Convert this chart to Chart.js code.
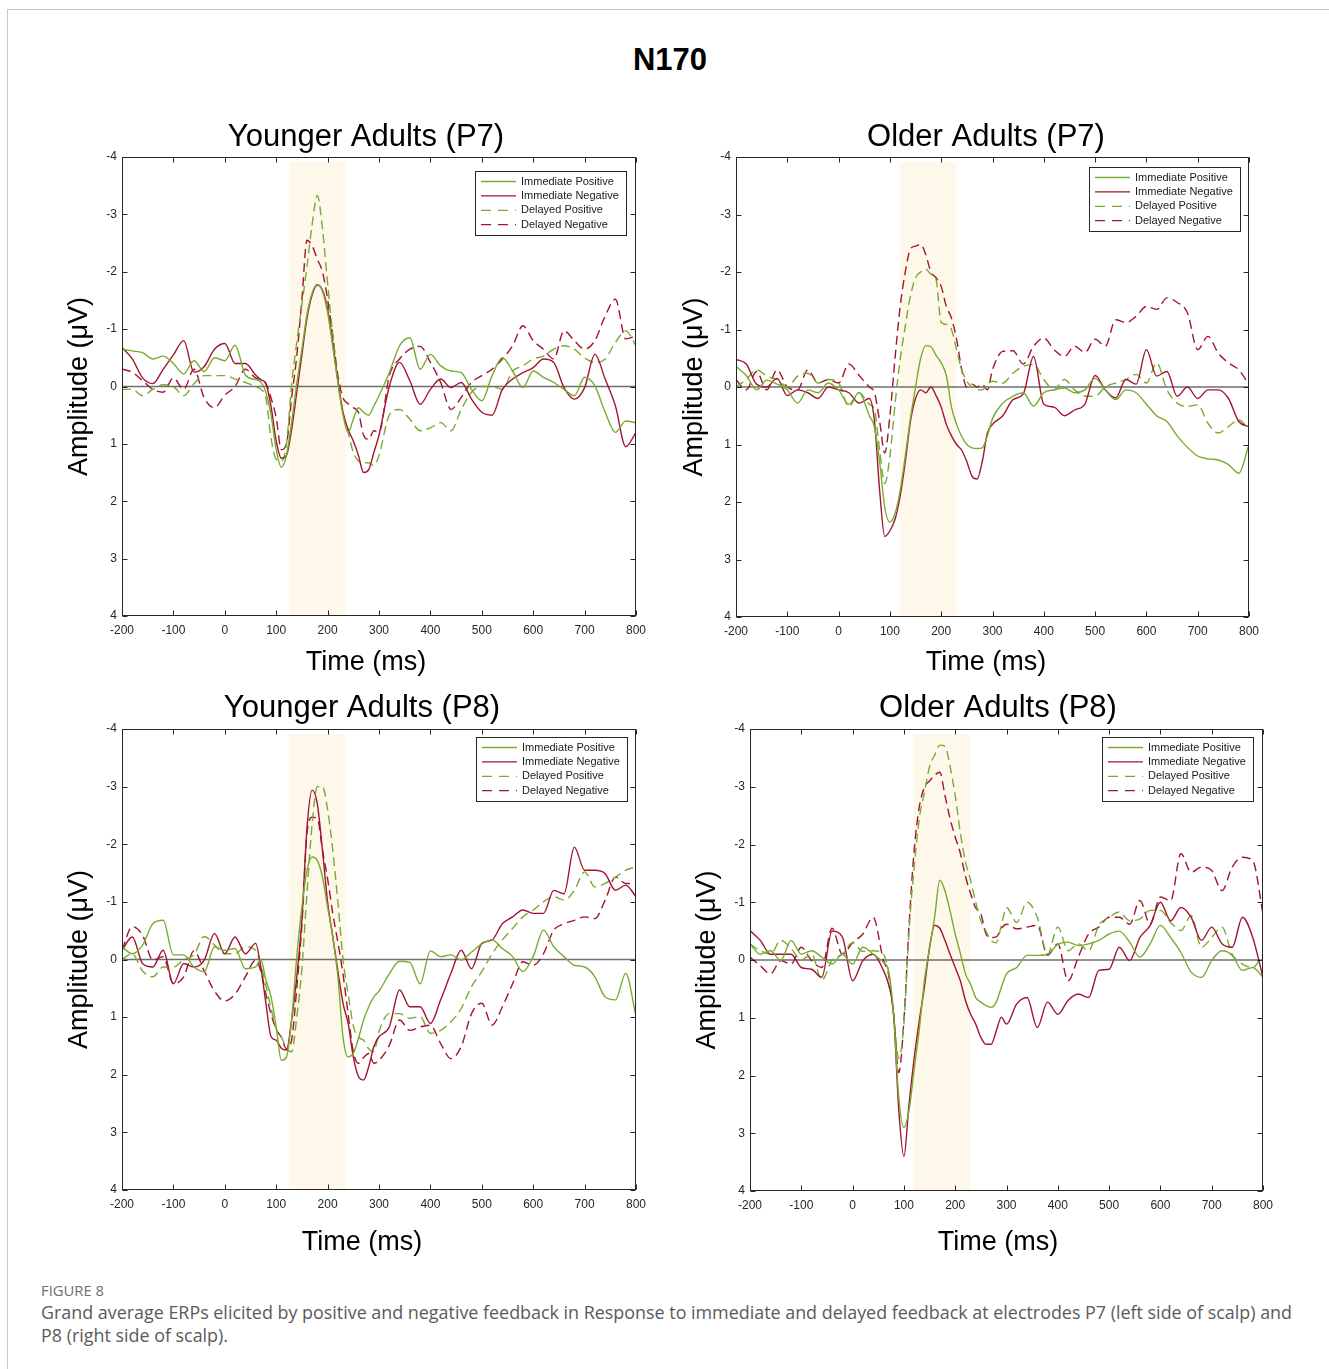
<!DOCTYPE html>
<html>
<head>
<meta charset="utf-8">
<script src="https://cdn.jsdelivr.net/npm/chart.js@4.4.1/dist/chart.umd.min.js"></script>
<style>
  body { margin: 0; background: #fff; width: 1329px; height: 1369px; overflow: hidden; position: relative;
         font-family: 'Liberation Sans', Arial, Helvetica, sans-serif; }
  .frame { position: absolute; left: 7px; top: 9px; width: 1400px; height: 1400px;
           border-top: 1px solid #c8c8c8; border-left: 1px solid #c8c8c8; }
  .main-title { position: absolute; left: 0; width: 1340px; top: 42px; line-height: 36px; text-align: center;
                font-size: 31px; font-weight: bold; color: #000; }
  canvas { position: absolute; }
  .fig-label { position: absolute; left: 41px; top: 1281px; font-family: 'Open Sans', sans-serif; font-size: 14.8px;
               color: #707070; line-height: 18px; }
  .caption { position: absolute; left: 41px; top: 1301px; font-family: 'Open Sans', sans-serif; font-size: 17.9px;
             color: #5a5a5a; line-height: 23px; white-space: nowrap; }
</style>
</head>
<body>
<div class="frame"></div>
<div class="main-title">N170</div>
<canvas id="ya7"></canvas>
<canvas id="oa7"></canvas>
<canvas id="ya8"></canvas>
<canvas id="oa8"></canvas>
<div class="fig-label">FIGURE 8</div>
<div class="caption">Grand average ERPs elicited by positive and negative feedback in Response to immediate and delayed feedback at electrodes P7 (left side of scalp) and<br>P8 (right side of scalp).</div>

<script>
// time points in ms (finer step around the N170 window)
const times = [-200,-180,-160,-140,-120,-100,-80,-60,-40,-20,0,20,40,60,
  70,80,90,100,110,120,130,140,150,160,170,180,190,200,210,220,230,240,250,260,270,280,290,300,
  320,340,360,380,400,420,440,460,480,500,520,540,560,580,600,620,640,660,680,700,720,740,760,780,800];

const seriesLabels = ['Immediate Positive', 'Immediate Negative', 'Delayed Positive', 'Delayed Negative'];
const panelTitles = ['Younger Adults (P7)', 'Older Adults (P7)', 'Younger Adults (P8)', 'Older Adults (P8)'];

// shaded N170 windows (ms)
const bandYoung = [125, 235];
const bandOld = [119, 230];

// amplitudes in microvolts
const ya7ImmPos = [-0.65,-0.62,-0.59,-0.48,-0.53,-0.4,-0.22,-0.45,-0.26,-0.5,-0.45,-0.72,-0.2,-0.12,
  -0.08,0.1,0.5,1.1,1.41,1.2,0.63,-0.05,-0.65,-1.26,-1.63,-1.78,-1.66,-1.29,-0.7,-0.07,0.5,0.8,0.57,0.37,0.45,0.5,0.34,0.16,
  -0.24,-0.71,-0.85,-0.3,-0.56,-0.36,-0.27,-0.24,0.05,0.25,-0.19,-0.5,-0.27,0.02,-0.27,-0.16,-0.07,0.05,0.16,-0.16,-0.01,0.45,0.8,0.6,0.63];
const ya7ImmNeg = [-0.68,-0.48,-0.15,-0.05,-0.3,-0.55,-0.8,-0.25,-0.35,-0.65,-0.75,-0.4,-0.4,-0.2,
  -0.12,-0.05,0.35,0.95,1.25,1.2,0.75,0.1,-0.55,-1.2,-1.6,-1.77,-1.68,-1.35,-0.75,-0.1,0.45,0.75,0.95,1.2,1.5,1.45,1.15,0.85,
  0.0,-0.42,-0.1,0.31,0.05,-0.13,0.02,-0.07,0.22,0.45,0.5,0.05,-0.13,-0.24,-0.33,-0.48,-0.42,0.02,0.22,0.02,-0.56,-0.13,0.34,1.05,0.8];
const ya7DelPos = [0.05,0.05,0.16,0.05,-0.03,0.0,0.16,-0.05,-0.19,-0.19,-0.19,-0.13,-0.07,0.0,
  0.05,0.2,0.9,1.27,1.3,1.0,-0.04,-0.77,-1.43,-2.1,-2.83,-3.33,-2.75,-1.8,-0.9,-0.1,0.45,0.8,1.15,1.3,1.33,1.33,1.38,1.2,
  0.5,0.4,0.57,0.77,0.72,0.63,0.77,0.4,0.1,0.0,0.0,0.05,-0.27,-0.36,-0.48,-0.53,-0.65,-0.71,-0.65,-0.5,-0.42,-0.48,-0.77,-0.97,-0.71];
const ya7DelNeg = [-0.3,-0.25,-0.1,0.05,0.1,-0.15,0.05,-0.3,0.2,0.37,0.15,0.0,-0.3,-0.15,
  -0.12,-0.05,0.2,0.55,1.1,1.0,0.2,-0.53,-1.52,-2.55,-2.45,-2.22,-2.0,-1.52,-0.88,-0.19,0.2,0.3,0.37,0.45,0.85,0.92,0.77,0.8,
  -0.19,-0.48,-0.65,-0.7,-0.42,-0.07,0.4,0.19,-0.07,-0.19,-0.3,-0.48,-0.71,-1.06,-0.8,-0.65,-0.48,-0.97,-0.8,-0.65,-0.8,-1.23,-1.52,-0.83,-0.88];

const oa7ImmPos = [-0.36,-0.2,0.05,-0.12,-0.05,0.05,0.28,0.05,0.1,-0.07,0.05,0.3,0.1,0.5,
  0.7,1.3,2.1,2.35,2.2,1.8,1.2,0.55,0.0,-0.5,-0.72,-0.7,-0.55,-0.42,-0.2,0.35,0.65,0.86,1.0,1.06,1.07,1.06,0.85,0.55,
  0.28,0.16,0.1,0.33,0.1,0.05,0.02,0.1,0.05,-0.15,0.05,0.22,0.05,0.1,0.3,0.5,0.6,0.85,1.05,1.2,1.25,1.27,1.35,1.5,1.0];
const oa7ImmNeg = [-0.48,-0.4,-0.05,0.0,-0.15,0.15,0.05,0.1,0.2,0.0,0.05,0.1,0.28,0.2,
  0.6,1.8,2.6,2.5,2.3,1.9,1.3,0.6,0.2,0.05,0.1,0.0,0.15,0.35,0.65,0.85,1.0,1.1,1.3,1.55,1.6,1.3,0.8,0.65,
  0.5,0.22,0.12,-0.53,0.3,0.35,0.5,0.4,0.3,-0.2,0.05,0.19,-0.13,-0.05,-0.65,-0.19,-0.27,0.16,0.0,0.2,0.05,0.05,0.2,0.6,0.69];
const oa7DelPos = [0.0,-0.13,-0.3,-0.19,-0.13,0.0,-0.19,-0.24,-0.07,-0.13,-0.07,0.34,0.1,0.3,
  0.4,1.1,1.68,1.2,0.3,-0.48,-1.06,-1.58,-1.9,-2.0,-2.05,-1.96,-1.87,-1.12,-1.09,-1.0,-0.65,-0.3,-0.1,0.0,0.05,0.05,-0.05,-0.1,
  -0.07,-0.24,-0.36,-0.39,-0.13,0.05,-0.13,0.05,0.16,0.16,0.0,-0.07,-0.13,-0.22,-0.07,-0.42,0.05,0.28,0.34,0.31,0.63,0.8,0.69,0.57,0.74];
const oa7DelNeg = [-0.13,0.05,-0.27,0.05,-0.3,0.0,0.05,-0.3,-0.07,-0.13,-0.07,-0.4,-0.2,0.0,
  0.1,0.6,1.15,0.5,-0.5,-1.4,-2.0,-2.4,-2.45,-2.48,-2.3,-2.0,-1.9,-1.75,-1.4,-1.2,-0.83,-0.3,0.0,-0.05,0.0,-0.05,0.05,-0.3,
  -0.62,-0.63,-0.4,-0.71,-0.85,-0.65,-0.53,-0.71,-0.6,-0.83,-0.71,-1.17,-1.12,-1.23,-1.4,-1.35,-1.55,-1.47,-1.29,-0.65,-0.88,-0.59,-0.42,-0.3,-0.04];

const ya8ImmPos = [-0.22,-0.1,-0.25,-0.62,-0.68,-0.08,-0.08,0.13,0.21,-0.22,-0.16,-0.19,0.16,0.13,
  0.0,0.36,0.65,1.17,1.75,1.69,1.05,-0.05,-0.91,-1.55,-1.78,-1.72,-1.43,-0.91,-0.4,0.3,1.35,1.69,1.63,1.37,1.05,0.82,0.65,0.55,
  0.25,0.03,0.05,0.42,-0.15,-0.05,-0.08,0.01,-0.13,-0.27,-0.34,-0.19,-0.05,0.21,-0.05,-0.51,-0.22,-0.05,0.1,0.13,0.3,0.65,0.7,0.24,0.99];
const ya8ImmNeg = [-0.16,-0.39,0.07,0.13,-0.16,0.42,0.07,0.13,0.01,-0.45,-0.1,-0.39,-0.1,-0.28,
  0.13,0.76,1.34,1.4,1.54,1.57,1.05,0.3,-0.7,-2.3,-2.94,-2.7,-1.9,-1.0,-0.4,0.2,0.76,1.11,1.69,2.03,2.09,1.86,1.51,1.34,
  1.17,0.53,0.82,0.82,1.11,0.7,0.24,-0.16,0.16,-0.28,-0.34,-0.62,-0.74,-0.86,-0.8,-0.8,-1.2,-1.14,-1.95,-1.55,-1.55,-1.49,-1.2,-1.29,-1.09];
const ya8DelPos = [0.0,-0.1,0.2,0.3,0.13,0.13,0.0,-0.08,-0.4,-0.25,-0.1,-0.1,-0.22,-0.16,
  0.1,0.45,0.85,1.2,1.34,1.55,1.6,1.0,0.15,-1.17,-2.36,-3.0,-3.0,-2.6,-1.9,-1.0,0.0,0.6,1.15,1.35,1.4,1.55,1.6,1.25,
  0.94,0.94,1.02,0.99,1.28,1.23,1.08,0.85,0.47,0.21,-0.1,-0.34,-0.54,-0.74,-0.86,-1.0,-1.09,-1.03,-1.2,-1.52,-1.26,-1.32,-1.43,-1.55,-1.61];
const ya8DelNeg = [-0.16,-0.57,-0.42,0.01,-0.05,0.42,0.3,-0.15,0.2,0.55,0.72,0.6,0.3,0.01,
  0.2,0.6,0.95,1.21,1.35,1.55,1.4,0.5,-0.6,-2.2,-2.47,-2.45,-1.9,-1.4,-0.8,-0.3,0.25,0.95,1.6,1.8,1.7,1.63,1.8,1.75,
  1.49,1.05,1.23,1.17,1.14,1.46,1.72,1.51,0.94,0.76,1.14,0.82,0.42,0.04,0.1,-0.1,-0.51,-0.62,-0.68,-0.74,-0.71,-1.03,-1.43,-1.32,-1.32];

const oa8ImmPos = [-0.28,-0.1,-0.16,0.01,-0.34,-0.1,-0.16,-0.05,0.07,-0.1,0.07,-0.22,-0.1,0.04,
  0.18,0.94,2.38,2.9,2.6,1.9,1.2,0.36,-0.2,-0.75,-1.38,-1.2,-0.85,-0.45,-0.12,0.24,0.42,0.65,0.73,0.79,0.82,0.73,0.47,0.24,
  0.13,-0.08,-0.08,-0.1,-0.27,-0.31,-0.25,-0.28,-0.34,-0.45,-0.5,-0.31,-0.05,-0.28,-0.6,-0.39,-0.13,0.21,0.3,0.01,-0.16,-0.08,0.18,0.13,0.3];
const oa8ImmNeg = [-0.51,-0.34,-0.1,-0.1,-0.1,0.13,0.16,0.3,-0.5,-0.4,0.36,0.01,-0.1,0.18,
  0.42,0.95,2.6,3.4,2.5,1.7,1.05,0.47,-0.22,-0.6,-0.55,-0.34,-0.1,0.13,0.36,0.7,0.94,1.11,1.34,1.46,1.46,1.23,0.99,1.11,
  0.76,0.65,1.17,0.73,0.94,0.7,0.59,0.65,0.18,0.16,-0.22,0.01,-0.39,-0.6,-1.0,-0.68,-0.91,-0.74,-0.34,-0.57,-0.28,-0.22,-0.74,-0.39,0.3];
const oa8DelPos = [-0.28,-0.16,-0.1,-0.34,-0.2,0.0,-0.1,0.35,0.0,-0.1,-0.3,-0.15,-0.16,-0.1,
  0.2,0.95,1.7,1.1,-0.5,-1.6,-2.45,-2.9,-3.35,-3.55,-3.72,-3.7,-3.35,-2.85,-2.2,-1.7,-1.38,-1.0,-0.68,-0.5,-0.34,-0.3,-0.6,-0.91,
  -0.65,-1.0,-0.74,-0.1,-0.57,-0.16,-0.28,-0.16,-0.6,-0.74,-0.83,-0.68,-0.71,-0.86,-0.86,-0.65,-0.51,-0.77,-0.22,-0.39,-0.57,-0.1,0.07,0.13,-0.1];
const oa8DelNeg = [-0.05,0.1,0.24,0.01,0.07,-0.22,0.01,0.13,-0.55,-0.1,-0.3,-0.45,-0.74,0.0,
  0.25,0.95,1.95,1.05,-0.6,-1.9,-2.65,-2.99,-3.1,-3.2,-3.25,-2.85,-2.45,-2.13,-1.85,-1.45,-1.15,-0.9,-0.8,-0.45,-0.39,-0.4,-0.55,-0.62,
  -0.54,-0.57,-0.6,-0.08,-0.28,0.36,-0.05,-0.45,-0.57,-0.74,-0.74,-0.62,-1.03,-0.62,-1.09,-1.03,-1.84,-1.52,-1.61,-1.55,-1.2,-1.61,-1.78,-1.72,-0.8];

const FONT = "'Liberation Sans', Arial, Helvetica, sans-serif";
const GREEN = '#77AC30';
const RED = '#A2142F';
const seriesColors = [GREEN, RED, GREEN, RED];
const seriesDash = [[], [], [9, 5], [9, 5]];

// where each subplot sits on the page (plot box in px) and where its labels go
const panels = [
  { id: 'ya7', title: panelTitles[0], series: [ya7ImmPos, ya7ImmNeg, ya7DelPos, ya7DelNeg], band: bandYoung,
    plot: { left: 122, top: 157, right: 636, bottom: 616 }, titleX: 366, titleY: 137.5, xLabelY: 663, yLabelX: 80, legTop: 14, legRight: 10 },
  { id: 'oa7', title: panelTitles[1], series: [oa7ImmPos, oa7ImmNeg, oa7DelPos, oa7DelNeg], band: bandOld,
    plot: { left: 736, top: 157, right: 1249, bottom: 617 }, titleX: 986, titleY: 137.5, xLabelY: 663, yLabelX: 695, legTop: 10, legRight: 9 },
  { id: 'ya8', title: panelTitles[2], series: [ya8ImmPos, ya8ImmNeg, ya8DelPos, ya8DelNeg], band: bandYoung,
    plot: { left: 122, top: 729, right: 636, bottom: 1190 }, titleX: 362, titleY: 708.5, xLabelY: 1243, yLabelX: 80, legTop: 8, legRight: 9 },
  { id: 'oa8', title: panelTitles[3], series: [oa8ImmPos, oa8ImmNeg, oa8DelPos, oa8DelNeg], band: bandOld,
    plot: { left: 750, top: 729, right: 1263, bottom: 1191 }, titleX: 998, titleY: 708.5, xLabelY: 1243, yLabelX: 708, legTop: 8, legRight: 10 }
];

// shaded window, zero line, boxed axes with inward ticks, legend box
const erpDecor = {
  id: 'erpDecor',
  beforeDatasetsDraw(chart, args, opts) {
    const { ctx, chartArea: a, scales: { x, y } } = chart;
    ctx.save();
    const x0 = x.getPixelForValue(opts.band[0]);
    const x1 = x.getPixelForValue(opts.band[1]);
    ctx.fillStyle = '#FDF8EA';
    ctx.fillRect(x0, a.top + 5, x1 - x0, a.bottom - a.top - 5);
    const y0 = y.getPixelForValue(0);
    ctx.strokeStyle = '#6e6e6e';
    ctx.lineWidth = 1.5;
    ctx.beginPath();
    ctx.moveTo(a.left, y0);
    ctx.lineTo(a.right, y0);
    ctx.stroke();
    ctx.restore();
  },
  afterDatasetsDraw(chart) {
    const { ctx, chartArea: a, scales: { x, y } } = chart;
    ctx.save();
    ctx.strokeStyle = '#262626';
    ctx.lineWidth = 1;
    const L = Math.round(a.left) + 0.5, R = Math.round(a.right) - 0.5;
    const T = Math.round(a.top) + 0.5, B = Math.round(a.bottom) - 0.5;
    ctx.strokeRect(L, T, R - L, B - T);
    ctx.beginPath();
    x.ticks.forEach(t => {
      const px = Math.round(x.getPixelForValue(t.value)) + 0.5;
      ctx.moveTo(px, B); ctx.lineTo(px, B - 5);
      ctx.moveTo(px, T); ctx.lineTo(px, T + 5);
    });
    y.ticks.forEach(t => {
      const py = Math.round(y.getPixelForValue(t.value)) + 0.5;
      ctx.moveTo(L, py); ctx.lineTo(L + 5, py);
      ctx.moveTo(R, py); ctx.lineTo(R - 5, py);
    });
    ctx.stroke();
    ctx.restore();
  },
  afterDraw(chart, args, opts) {
    const { ctx, chartArea: a } = chart;
    const sets = chart.data.datasets;
    ctx.save();
    ctx.font = '11px ' + FONT;
    const textW = Math.max(...sets.map(d => ctx.measureText(d.label).width));
    const rowH = 14.4;
    const w = Math.round(6 + 35 + 5 + textW + 7);
    const h = Math.round(rowH * sets.length + 6);
    const left = Math.round(a.right - opts.legRight - w);
    const top = Math.round(a.top + opts.legTop);
    ctx.fillStyle = '#fff';
    ctx.fillRect(left, top, w, h);
    ctx.strokeStyle = '#262626';
    ctx.lineWidth = 1;
    ctx.strokeRect(left + 0.5, top + 0.5, w, h);
    sets.forEach((d, i) => {
      const cy = top + 3.3 + rowH * (i + 0.5);
      ctx.strokeStyle = d.borderColor;
      ctx.lineWidth = 1.3;
      ctx.setLineDash(d.borderDash.length ? [10, 7] : []);
      ctx.beginPath();
      ctx.moveTo(left + 6, cy);
      ctx.lineTo(left + 41, cy);
      ctx.stroke();
      ctx.setLineDash([]);
      ctx.fillStyle = '#1a1a1a';
      ctx.textBaseline = 'middle';
      ctx.textAlign = 'left';
      ctx.fillText(d.label, left + 46, cy);
    });
    ctx.restore();
  }
};

Chart.defaults.font.family = FONT;
Chart.defaults.color = '#262626';

const TITLE_SIZE = 31, LABEL_SIZE = 27;

panels.forEach(p => {
  // title span is centred on titleX; keep room for the y tick labels,
  // and pad the right side with an empty scale when needed
  let span = 2 * p.titleX - p.plot.right;
  let rightPad = 0;
  if (p.plot.left - span < 24) {
    span = p.plot.left - 24;
    rightPad = 2 * p.titleX - span - p.plot.right;
  }
  const canvasLeft = span - 60;
  const canvasTop = p.plot.top - 62;
  const width = p.plot.right + rightPad + 20 - canvasLeft;
  const yAxisW = p.plot.left - span;
  const xAxisH = 24;
  const tLine = TITLE_SIZE * 1.2, lLine = LABEL_SIZE * 1.2;
  const titlePadTop = p.titleY - p.plot.top + 62 - tLine / 2;
  const subPadTop = p.xLabelY - p.plot.bottom - xAxisH - lLine / 2;
  const used = (p.plot.bottom - canvasTop) + xAxisH + subPadTop + lLine + 6;
  const height = Math.ceil(used) + 2;

  const canvas = document.getElementById(p.id);
  canvas.width = width;
  canvas.height = height;
  canvas.style.width = width + 'px';
  canvas.style.height = height + 'px';
  canvas.style.left = canvasLeft + 'px';
  canvas.style.top = canvasTop + 'px';

  const datasets = p.series.map((vals, i) => ({
    label: seriesLabels[i],
    data: times.map((t, k) => ({ x: t, y: vals[k] })),
    borderColor: seriesColors[i],
    borderWidth: 1.4,
    borderDash: seriesDash[i],
    pointRadius: 0,
    fill: false,
    cubicInterpolationMode: 'monotone'
  }));

  new Chart(canvas, {
    type: 'line',
    data: { datasets },
    options: {
      responsive: false,
      animation: false,
      events: [],
      layout: { padding: { left: 60, right: 20, top: 0, bottom: height - used } },
      scales: {
        x: {
          type: 'linear', min: -200, max: 800,
          ticks: { stepSize: 100, padding: 7, maxRotation: 0, autoSkip: false, font: { size: 12 }, color: '#262626' },
          grid: { display: false, drawTicks: false },
          border: { display: false },
          afterFit: s => { s.height = xAxisH; }
        },
        y: {
          type: 'linear', min: -4, max: 4, reverse: true,
          ticks: { stepSize: 1, padding: 5, font: { size: 12 }, color: '#262626' },
          grid: { display: false, drawTicks: false },
          border: { display: false },
          title: { display: true, text: 'Amplitude (μV)', color: '#000', font: { size: LABEL_SIZE },
                   padding: { top: p.yLabelX - span - lLine / 2, bottom: 0 } },
          afterFit: s => { s.width = yAxisW; }
        },
        yPad: {
          type: 'linear', position: 'right', display: rightPad > 0,
          ticks: { display: false }, grid: { display: false, drawTicks: false }, border: { display: false },
          afterFit: s => { s.width = rightPad; }
        }
      },
      plugins: {
        legend: { display: false },
        tooltip: { enabled: false },
        title: { display: true, text: p.title, color: '#000', font: { size: TITLE_SIZE, weight: 'normal' },
                 padding: { top: titlePadTop, bottom: 62 - tLine - titlePadTop } },
        subtitle: { display: true, text: 'Time (ms)', position: 'bottom', color: '#000', font: { size: LABEL_SIZE, weight: 'normal' },
                    padding: { top: subPadTop, bottom: 6 } },
        erpDecor: { band: p.band, legTop: p.legTop, legRight: p.legRight }
      }
    },
    plugins: [erpDecor]
  });
});
</script>
</body>
</html>
